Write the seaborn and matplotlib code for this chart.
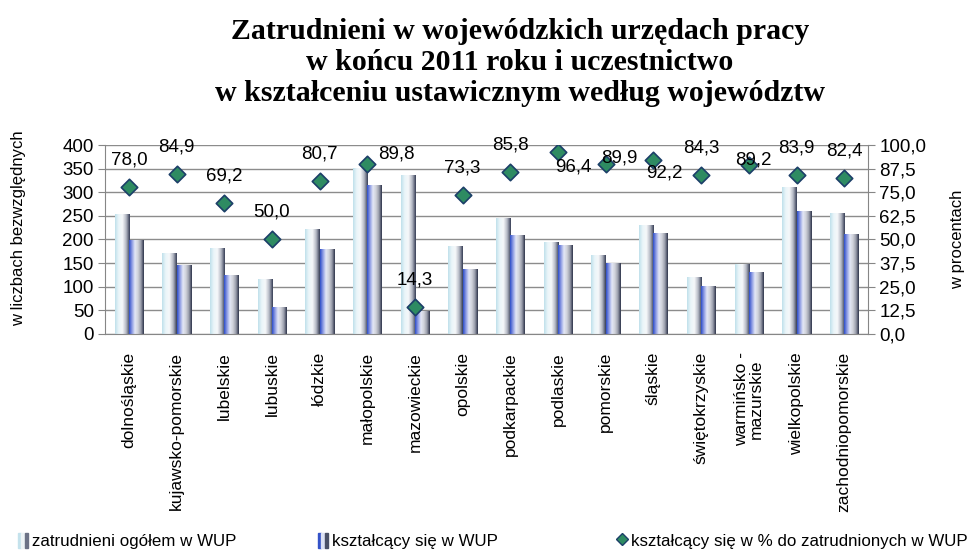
import numpy as np
import pandas as pd
import seaborn as sns
import matplotlib.pyplot as plt
from matplotlib.colors import LinearSegmentedColormap
from matplotlib.patches import Patch
from matplotlib.lines import Line2D
from matplotlib.legend_handler import HandlerTuple
from matplotlib.ticker import FuncFormatter

# dane
regions = ["dolnośląskie", "kujawsko-pomorskie", "lubelskie", "lubuskie", "łódzkie",
           "małopolskie", "mazowieckie", "opolskie", "podkarpackie", "podlaskie",
           "pomorskie", "śląskie", "świętokrzyskie", "warmińsko -\nmazurskie",
           "wielkopolskie", "zachodniopomorskie"]
employed = [254, 171, 182, 116, 222, 351, 336, 187, 245, 195, 167, 231, 121, 148, 311, 256]
learning = [199, 146, 125, 58, 180, 315, 48, 137, 210, 188, 150, 213, 102, 132, 261, 211]
percent = [78.0, 84.9, 69.2, 50.0, 80.7, 89.8, 14.3, 73.3, 85.8, 96.4, 89.9, 92.2, 84.3, 89.2, 83.9, 82.4]

series_names = ["zatrudnieni ogółem w WUP", "kształcący się w WUP",
                "kształcący się w % do zatrudnionych w WUP"]

# label offsets in pixels (x, y) for percentage labels
label_off = [(0, 27)] * 16
label_off[5] = (29, 10)
label_off[9] = (15, -15)
label_off[10] = (14, 6)
label_off[11] = (11, -13)
label_off[13] = (5, 5)

sns.set_style("white")
plt.rcParams["font.family"] = ["Liberation Sans Narrow", "Liberation Sans", "DejaVu Sans"]
plt.rcParams["font.size"] = 13.5
plt.rcParams["text.color"] = "black"
plt.rcParams["xtick.color"] = "black"
plt.rcParams["ytick.color"] = "black"

df = pd.DataFrame({
    "region": regions * 2,
    "value": employed + learning,
    "series": [series_names[0]] * len(regions) + [series_names[1]] * len(regions),
})

fig = plt.figure(figsize=(9.75, 5.56), dpi=100)
ax = fig.add_axes([0.1077, 0.3993, 0.7826, 0.3399])

sns.barplot(data=df, x="region", y="value", hue="series", order=regions,
            width=0.6, gap=0, legend=False, ax=ax, edgecolor="none", saturation=1)

# gradient fill of the bars
cm1 = LinearSegmentedColormap.from_list("c1", ["#bfe0eb", "#eaf5f9", "#f6f8fa", "#b4b8c4", "#353c54"])
cm2 = LinearSegmentedColormap.from_list("c2", ["#2c4cc8", "#8e9ce4", "#e4e8f6", "#d0d2da", "#9a9eac", "#2c3248"])
grad = np.linspace(0, 1, 128).reshape(1, -1)
n = len(regions)
for i, p in enumerate(list(ax.patches)):
    x0, y0, w, h = p.get_x(), p.get_y(), p.get_width(), p.get_height()
    if h <= 0:
        continue
    cmap = cm1 if i < n else cm2
    im = ax.imshow(grad, extent=[x0, x0 + w, y0, y0 + h], aspect="auto", cmap=cmap,
                   interpolation="bilinear", zorder=2)
    im.set_clip_path(p)
    p.set_facecolor("none")

ax.set_xlim(-0.5, n - 0.5)
ax.set_ylim(0, 400)
ax.set_yticks(np.arange(0, 401, 50))
ax.yaxis.grid(True, color="#8c8c8c", lw=1)
ax.set_axisbelow(True)
ax.set_xlabel("")
ax.set_ylabel("")
ax.set_xticks(np.arange(n))
ax.set_xticklabels(regions, rotation=90, va="top", ha="center", linespacing=1.0, fontsize=12.5)
ax.set_xticks(np.arange(-0.5, n, 1), minor=True)
ax.tick_params(axis="x", which="major", length=0, pad=13)
ax.tick_params(axis="x", which="minor", length=6, color="#868686", width=1, direction="out")
ax.tick_params(axis="y", length=5, color="#868686", direction="out", pad=3)
for s in ["top", "right"]:
    ax.spines[s].set_visible(False)
for s in ["left", "bottom"]:
    ax.spines[s].set_color("#868686")

ax2 = ax.twinx()
sns.scatterplot(x=np.arange(n), y=percent, marker="D", s=70, color="#2e8b62",
                edgecolor="#1c3f68", linewidth=1.2, ax=ax2, zorder=5, legend=False)
ax2.set_ylim(0, 100)
ax2.set_yticks(np.arange(0, 100.1, 12.5))
ax2.yaxis.set_major_formatter(FuncFormatter(lambda v, _: f"{v:.1f}".replace(".", ",")))
ax2.tick_params(axis="y", length=5, color="#868686", direction="out", pad=3)
for s in ["top", "left", "bottom"]:
    ax2.spines[s].set_visible(False)
ax2.spines["right"].set_color("#868686")
ax2.set_xlim(-0.5, n - 0.5)

for i, v in enumerate(percent):
    ax2.annotate(f"{v:.1f}".replace(".", ","), (i, v), xytext=label_off[i],
                 textcoords="offset pixels", ha="center", va="center", zorder=6)

fig.text(0.533, 0.888, "Zatrudnieni w wojewódzkich urzędach pracy\nw końcu 2011 roku i uczestnictwo\n"
         "w kształceniu ustawicznym według województw", ha="center", va="center",
         family="Liberation Serif", weight="bold", fontsize=21.5, linespacing=1.2)
fig.text(0.019, 0.59, "w liczbach bezwzględnych", rotation=90, ha="center", va="center", fontsize=12)
fig.text(0.982, 0.57, "w procentach", rotation=90, ha="center", va="center", fontsize=12)

h1 = (Patch(color="#c4e2ec"), Patch(color="#eef4f6"), Patch(color="#6c7286"))
h2 = (Patch(color="#3452c8"), Patch(color="#dde2f4"), Patch(color="#4a5066"))
h3 = Line2D([], [], marker="D", ls="none", markersize=6, markerfacecolor="#2e8b62",
            markeredgecolor="#1c3f68")
for hnd, lab, xpos in [(h1, series_names[0], 18), (h2, series_names[1], 318), (h3, series_names[2], 617)]:
    fig.legend([hnd], [lab], loc="center left", bbox_to_anchor=(xpos / 975, 0.027),
               frameon=False, borderpad=0, borderaxespad=0, handlelength=0.6, handleheight=1.0,
               handletextpad=0.25, fontsize=12.2,
               handler_map={tuple: HandlerTuple(ndivide=None, pad=0)})

fig.savefig("out.png", dpi=100)
